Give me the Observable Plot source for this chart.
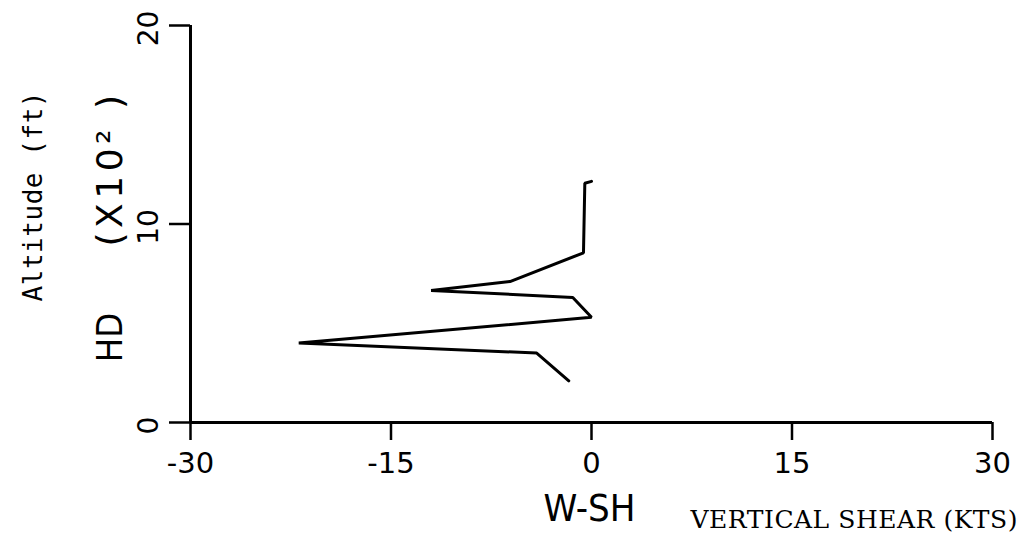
<!DOCTYPE html>
<html>
<head>
<meta charset="utf-8">
<script src="https://cdn.jsdelivr.net/npm/d3@7"></script>
<script src="https://cdn.jsdelivr.net/npm/@observablehq/plot@0.6"></script>
<style>
  html, body { margin: 0; padding: 0; background: #fff; }
</style>
</head>
<body>
<div id="chart"></div>
<script>
// Vertical shear profile (kts) vs altitude (x100 ft), listed from lowest point upward
const shear    = [-1.7, -4.1, -21.9, 0.0, -1.4, -12.0, -6.1, -0.6, -0.5, 0.0];
const altitude = [2.1,   3.5,   4.0, 5.3,  6.3,  6.65,  7.1, 8.55, 12.05, 12.15];

const xTicks = [-30, -15, 0, 15, 30];
const yTicks = [0, 10, 20];
const xTickLabels = ["-30", "-15", "0", "15", "30"];
const yTickLabels = ["0", "10", "20"];

const data = shear.map((s, i) => ({shear: s, altitude: altitude[i]}));

const sans = "'DejaVu Sans', sans-serif";
const serif = "'DejaVu Serif', 'Liberation Serif', serif";
const mono = "'DejaVu Sans Mono', 'Liberation Mono', monospace";

const plot = Plot.plot({
  width: 1022,
  height: 537,
  marginLeft: 190,
  marginRight: 30,
  marginTop: 25,
  marginBottom: 115,
  style: {background: "white", color: "black"},
  x: {domain: [-30, 30]},
  y: {domain: [0, 20]},
  marks: [
    Plot.axisX({ticks: xTicks, tickSize: 18, tickFormat: () => "", label: null, strokeWidth: 2.5}),
    Plot.axisY({ticks: yTicks, tickSize: 21, tickFormat: () => "", label: null, strokeWidth: 2.5}),
    Plot.ruleX([-30], {strokeWidth: 3}),
    Plot.ruleY([0], {strokeWidth: 3}),
    Plot.line(data, {x: "shear", y: "altitude", stroke: "black", strokeWidth: 3, strokeLinejoin: "miter"}),
    // tick labels
    Plot.text(xTicks, {x: d => d, text: (d, i) => xTickLabels[i], frameAnchor: "bottom", dy: 41,
      textAnchor: "middle", lineAnchor: "middle", fontSize: 29, fontFamily: sans}),
    Plot.text(yTicks, {y: d => d, text: (d, i) => yTickLabels[i], frameAnchor: "left", dx: -41, dy: 3,
      rotate: -90, textAnchor: "middle", lineAnchor: "middle", fontSize: 28, fontFamily: sans}),
    // axis titles
    Plot.text(["HD"], {text: d => d, frameAnchor: "top-left", dx: -80, dy: 312, rotate: -90,
      textAnchor: "middle", lineAnchor: "middle", fontSize: 36, fontFamily: sans}),
    Plot.text(["(X10\u00B2 )"], {text: d => d, frameAnchor: "top-left", dx: -80, dy: 143, rotate: -90,
      textAnchor: "middle", lineAnchor: "middle", fontSize: 36, fontFamily: sans}),
    Plot.text(["Altitude (ft)"], {text: d => d, frameAnchor: "top-left", dx: -157, dy: 171, rotate: -90,
      textAnchor: "middle", lineAnchor: "middle", fontSize: 26, fontFamily: mono}),
    Plot.text(["W-SH"], {text: d => d, frameAnchor: "bottom-left", dx: 399, dy: 86,
      textAnchor: "middle", lineAnchor: "middle", fontSize: 38, fontFamily: sans}),
    Plot.text(["VERTICAL SHEAR (KTS)"], {text: d => d, frameAnchor: "bottom-left", dx: 500, dy: 97,
      textAnchor: "start", lineAnchor: "middle", fontSize: 25, fontFamily: serif})
  ]
});

const svg = d3.select(plot);
svg.selectAll("text").attr("fill", "black");
const byText = (s) => svg.selectAll("text").filter(function() { return this.textContent === s; });
["HD", "W-SH"].forEach(s => byText(s).attr("font-stretch", "condensed"));
byText("(X10\u00B2 )").attr("letter-spacing", 4.5);
byText("Altitude (ft)").attr("textLength", 210).attr("lengthAdjust", "spacing");
byText("VERTICAL SHEAR (KTS)").attr("textLength", 327).attr("lengthAdjust", "spacing");
byText("W-SH").attr("textLength", 92).attr("lengthAdjust", "spacingAndGlyphs");

document.getElementById("chart").appendChild(plot);
</script>
</body>
</html>
